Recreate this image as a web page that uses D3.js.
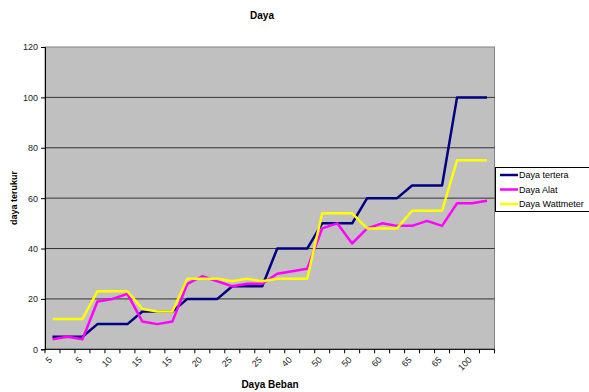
<!DOCTYPE html>
<html><head><meta charset="utf-8">
<script src="https://cdn.jsdelivr.net/npm/d3@7"></script>
<style>body{margin:0;background:#fff;} text{font-family:"Liberation Sans",Arial,sans-serif;}</style>
</head><body><svg id="c" width="589" height="392"></svg>
<script>
const categories = [5,5,5,10,10,10,15,15,15,20,20,20,25,25,25,40,40,40,50,50,50,60,60,60,65,65,65,100,100,100];
const dayaTertera = [5,5,5,10,10,10,15,15,15,20,20,20,25,25,25,40,40,40,50,50,50,60,60,60,65,65,65,100,100,100];
const dayaAlat = [4,5,4,19,20,22,11,10,11,26,29,27,25,26,26,30,31,32,48,50,42,48,50,49,49,51,49,58,58,59];
const dayaWattmeter = [12,12,12,23,23,23,16,15,15,28,28,28,27,28,27,28,28,28,54,54,54,48,48,48,55,55,55,75,75,75];
const yTicks = [0,20,40,60,80,100,120];
const seriesNames = ["Daya tertera","Daya Alat","Daya Wattmeter"];
const seriesColors = ["#000080","#FF00FF","#FFFF00"];
const seriesData = [dayaTertera, dayaAlat, dayaWattmeter];

const svg = d3.select("#c");
const L = 45, R = 494.5, T = 47, B = 349.3;
const idx = d3.range(categories.length);
const x = d3.scaleBand().domain(idx).range([L, R]).padding(0);
const y = d3.scaleLinear().domain([0,120]).range([B, T]);

svg.append("rect").attr("x", L).attr("y", T).attr("width", R-L).attr("height", B-T)
  .attr("fill", "#C0C0C0").attr("stroke", "#808080").attr("stroke-width", 1);

svg.append("g").selectAll("line").data(yTicks.filter(d => d > 0 && d < 120)).join("line")
  .attr("x1", L).attr("x2", R).attr("y1", d => y(d)).attr("y2", d => y(d))
  .attr("stroke", "#333").attr("stroke-width", 1);

const yAxis = svg.append("g").attr("transform", `translate(${L},0)`)
  .call(d3.axisLeft(y).tickValues(yTicks).tickSize(4).tickPadding(3));
yAxis.select(".domain").attr("stroke", "#000");
yAxis.selectAll(".tick line").attr("stroke", "#000");
yAxis.selectAll("text").attr("font-size", 9).attr("fill", "#222");

const gx = svg.append("g");
gx.append("line").attr("x1", L).attr("x2", R).attr("y1", B).attr("y2", B).attr("stroke", "#000");
gx.selectAll("line.t").data(d3.range(categories.length + 1)).join("line").attr("class","t")
  .attr("x1", i => L + i * x.bandwidth()).attr("x2", i => L + i * x.bandwidth())
  .attr("y1", B).attr("y2", B + 4).attr("stroke", "#000");
gx.selectAll("text").data(idx.filter(i => i % 2 === 0)).join("text")
  .attr("transform", i => `translate(${x(i) + x.bandwidth()/2 - 2},${B + 9}) rotate(-45)`)
  .attr("text-anchor", "end").attr("dy", "0.35em").attr("font-size", 9).attr("fill", "#222")
  .text(i => categories[i]);

const line = d3.line().x((d, i) => x(i) + x.bandwidth()/2).y(d => y(d));
seriesData.forEach((s, k) => {
  svg.append("path").datum(s).attr("d", line).attr("fill", "none")
    .attr("stroke", seriesColors[k]).attr("stroke-width", 2.5).attr("stroke-linejoin", "round");
});

svg.append("text").attr("x", 262).attr("y", 19).attr("text-anchor", "middle")
  .attr("font-size", 10).attr("font-weight", "bold").text("Daya");
svg.append("text").attr("x", 270).attr("y", 388).attr("text-anchor", "middle")
  .attr("font-size", 10).attr("font-weight", "bold").text("Daya Beban");
svg.append("text").attr("transform", "translate(17,198) rotate(-90)").attr("text-anchor", "middle")
  .attr("font-size", 9).attr("font-weight", "bold").text("daya terukur");

const lg = svg.append("g");
lg.append("rect").attr("x", 495.5).attr("y", 167.5).attr("width", 100).attr("height", 44)
  .attr("fill", "#fff").attr("stroke", "#000").attr("stroke-width", 1);
seriesNames.forEach((n, k) => {
  const yy = 175 + k * 14.5;
  lg.append("line").attr("x1", 500).attr("x2", 518).attr("y1", yy).attr("y2", yy)
    .attr("stroke", seriesColors[k]).attr("stroke-width", 2.5);
  lg.append("text").attr("x", 519).attr("y", yy).attr("dy", "0.35em").attr("font-size", 9).text(n);
});
</script></body></html>
